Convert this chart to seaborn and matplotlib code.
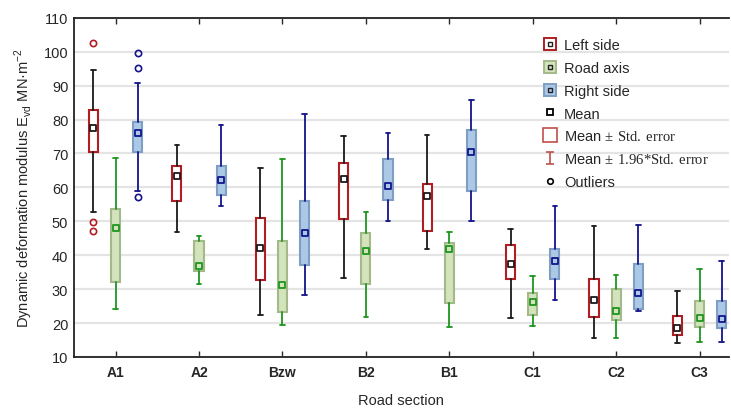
import numpy as np
import pandas as pd
import matplotlib
matplotlib.use("Agg")
import matplotlib.pyplot as plt
from matplotlib.lines import Line2D
from matplotlib.path import Path
import seaborn as sns

# Dades llegides del gràfic (E_vd, MN·m-2)
sections = ["A1", "A2", "Bzw", "B2", "B1", "C1", "C2", "C3"]
sides = ["Left side", "Road axis", "Right side"]

left_mean = [77.6, 63.5, 42.2, 62.6, 57.5, 37.5, 26.9, 18.6]
left_box_hi = [82.8, 66.3, 51.1, 67.1, 60.9, 43.1, 33.0, 22.1]
left_box_lo = [70.3, 56.0, 32.8, 50.8, 47.2, 32.9, 21.8, 16.5]
left_whis_hi = [94.6, 72.5, 65.8, 75.2, 75.5, 47.8, 48.6, 29.3]
left_whis_lo = [52.7, 46.7, 22.4, 33.4, 41.7, 21.5, 15.5, 14.0]
left_outliers = [[102.7, 49.7, 47.0], [], [], [], [], [], [], []]

road_mean = [48.1, 36.7, 31.2, 41.1, 41.9, 26.2, 23.5, 21.5]
road_box_hi = [53.5, 44.2, 44.2, 46.6, 43.7, 28.9, 30.1, 26.6]
road_box_lo = [32.0, 35.3, 23.3, 31.6, 25.8, 22.3, 20.9, 18.9]
road_whis_hi = [68.8, 45.8, 68.4, 52.6, 46.7, 33.8, 34.3, 35.8]
road_whis_lo = [24.0, 31.5, 19.5, 21.7, 18.9, 19.2, 15.6, 14.5]
road_outliers = [[], [], [], [], [], [], [], []]

right_mean = [76.0, 62.3, 46.6, 60.3, 70.4, 38.3, 28.9, 21.2]
right_box_hi = [79.2, 66.3, 56.1, 68.5, 76.8, 41.9, 37.3, 26.6]
right_box_lo = [70.3, 57.8, 37.1, 56.4, 58.9, 33.0, 24.2, 18.5]
right_whis_hi = [90.9, 78.5, 81.6, 76.1, 85.9, 54.6, 49.0, 38.3]
right_whis_lo = [58.9, 54.5, 28.4, 50.1, 50.2, 26.9, 23.5, 14.4]
right_outliers = [[99.5, 95.2, 57.1], [], [], [], [], [], [], []]

sns.set_style("white")
plt.rcParams["font.family"] = ["Liberation Sans", "DejaVu Sans"]
plt.rcParams["mathtext.fontset"] = "custom"
plt.rcParams["mathtext.rm"] = "Liberation Serif"
plt.rcParams["mathtext.sf"] = "Liberation Sans"

# estil de cada costat: vora caixa, farciment, bigotis, vora mitjana
styles = {
    "Left side": dict(edge="#B01E23", face="white", whisk="#1a1a1a", mean_edge="#1a1a1a"),
    "Road axis": dict(edge="#A3B98A", face="#D3E3BC", whisk="#1E961E", mean_edge="#1E961E"),
    "Right side": dict(edge="#7E9EC3", face="#ABC9E6", whisk="#14148C", mean_edge="#14148C"),
}
series = {
    "Left side": (left_mean, left_box_lo, left_box_hi, left_whis_lo, left_whis_hi, left_outliers),
    "Road axis": (road_mean, road_box_lo, road_box_hi, road_whis_lo, road_whis_hi, road_outliers),
    "Right side": (right_mean, right_box_lo, right_box_hi, right_whis_lo, right_whis_hi, right_outliers),
}
offsets = {"Left side": -0.265, "Road axis": 0.0, "Right side": 0.265}

fig = plt.figure(figsize=(7.31, 4.10), dpi=100)
ax = fig.add_axes([0.101, 0.127, 0.896, 0.827])

ax.set_ylim(10, 110)
ax.set_xlim(-0.5, 7.35)
ax.set_yticks(np.arange(10, 111, 10))
ax.yaxis.grid(True, color="#E4E4E4", linewidth=1.6, zorder=0)
ax.set_axisbelow(True)

base = np.arange(len(sections))
for side in sides:
    mean, lo, hi, wlo, whi, outl = series[side]
    st = styles[side]
    pos = base + offsets[side]
    stats = []
    for i in range(len(sections)):
        stats.append(dict(med=mean[i], q1=lo[i], q3=hi[i], whislo=wlo[i],
                          whishi=whi[i], fliers=outl[i]))
    ax.bxp(stats, positions=pos, widths=0.11, capwidths=0.055, patch_artist=True,
           showfliers=True, manage_ticks=False,
           boxprops=dict(facecolor=st["face"], edgecolor=st["edge"], linewidth=1.5),
           whiskerprops=dict(color=st["whisk"], linewidth=1.3),
           capprops=dict(color=st["whisk"], linewidth=1.3),
           medianprops=dict(linewidth=0),
           flierprops=dict(marker="o", markerfacecolor="none",
                           markeredgecolor=st["edge"] if side == "Left side" else st["whisk"],
                           markersize=4.5, markeredgewidth=1.2))
    sns.scatterplot(x=pos, y=mean, marker="s", s=22, color=st["face"],
                    edgecolor=st["mean_edge"], linewidth=1.3, zorder=5, ax=ax, legend=False)

ax.set_xticks(base)
ax.set_xticklabels(sections, fontweight="bold", fontsize=10)
ax.tick_params(axis="x", direction="in", length=4, width=1, top=True, bottom=True, pad=6)
ax.tick_params(axis="y", length=0, labelsize=10.5, pad=4)
for s in ["left", "bottom", "top"]:
    ax.spines[s].set_color("#222222")
    ax.spines[s].set_linewidth(1.3)
ax.spines["right"].set_visible(False)

ax.set_xlabel("Road section", fontsize=10.5, labelpad=10)
ax.set_ylabel(r"Dynamic deformation modulus E$_{\mathsf{vd}}$ MN·m$^{\mathsf{-2}}$", fontsize=10.5, labelpad=6)

# llegenda
ibar = Path([(-0.6, 1), (0.6, 1), (0, 1), (0, -1), (-0.6, -1), (0.6, -1)],
            [Path.MOVETO, Path.LINETO, Path.MOVETO, Path.LINETO, Path.MOVETO, Path.LINETO])


def icon(side):
    st = styles[side]
    return (Line2D([], [], ls="none", marker="s", markersize=8, markerfacecolor=st["face"],
                   markeredgecolor=st["edge"], markeredgewidth=1.4),
            Line2D([], [], ls="none", marker="s", markersize=3.5, markerfacecolor="none",
                   markeredgecolor="#222222", markeredgewidth=1.0))


handles = [icon(s) for s in sides]
handles += [
    Line2D([], [], ls="none", marker="s", markersize=5, markerfacecolor="white",
           markeredgecolor="black", markeredgewidth=1.3),
    Line2D([], [], ls="none", marker="s", markersize=10, markerfacecolor="white",
           markeredgecolor="#C0504D", markeredgewidth=1.2),
    Line2D([], [], ls="none", marker=ibar, markersize=9, markerfacecolor="none",
           markeredgecolor="#C0504D", markeredgewidth=1.2),
    Line2D([], [], ls="none", marker="o", markersize=4, markerfacecolor="none",
           markeredgecolor="black", markeredgewidth=1.2),
]
labels = sides + ["Mean", r"Mean $\mathrm{\pm\ Std.\,error}$",
                  r"Mean $\mathrm{\pm\ 1.96{*}Std.\,error}$", "Outliers"]
ax.legend(handles, labels, loc="upper left", bbox_to_anchor=(535 / 731, 1 - 32 / 410),
          bbox_transform=fig.transFigure, frameon=False, fontsize=10.5,
          handlelength=1.0, handletextpad=0.5, labelspacing=0.6, borderpad=0)

fig.savefig("out.png", dpi=100)
